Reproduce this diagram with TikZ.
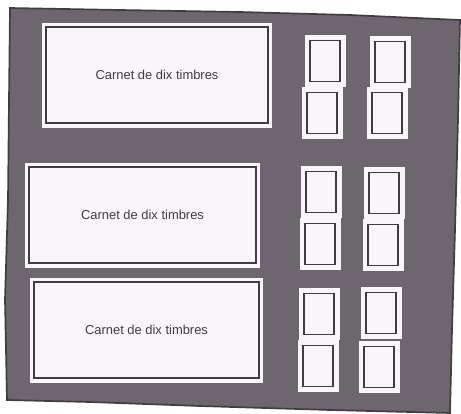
\documentclass[tikz,border=0pt]{standalone}
\usepackage{fontspec}
\setmainfont{Liberation Sans}
\usepackage{xcolor}
\usepackage{tikz}

\definecolor{fond}{RGB}{110,102,110}
\definecolor{trait}{RGB}{66,60,66}
\definecolor{papier}{RGB}{248,246,248}

\tikzset{
	carnet/.style={fill=papier, draw=papier, inner sep=0pt, minimum height=74pt,
		font=\fontsize{9.2}{11}\selectfont, text=trait,
		path picture={\draw[trait, line width=1pt]
			([shift={(2.6pt,3pt)}]path picture bounding box.south west) rectangle
			([shift={(-2.6pt,-3pt)}]path picture bounding box.north east);}},
	timbre/.style={fill=papier, draw=papier, inner sep=0pt,
		minimum width=28.4pt, minimum height=36.4pt,
		path picture={\draw[trait, line width=1pt]
			([shift={(3.4pt,3.6pt)}]path picture bounding box.south west) rectangle
			([shift={(-3.4pt,-3.6pt)}]path picture bounding box.north east);}}
}

\begin{document}
\begin{tikzpicture}[x=0.025cm, y=-0.025cm]
	\useasboundingbox (0,0) rectangle (461,414);
	% la planche
	\filldraw[fill=fond, draw=trait, line width=1.2pt] (10,8) -- (120,10) -- (240,12) -- (350,15) -- (460,20)
		-- (458,120) -- (455,230) -- (452,330) -- (450,413)
		-- (330,410) -- (200,406) -- (90,402) -- (7,400)
		-- (5,300) -- (8,200) -- (9,100) -- cycle;
	% les carnets
	\node[carnet, minimum width=163pt] (carnet1) at (157,75) {Carnet de dix timbres};
	\node[carnet, minimum width=166.5pt] (carnet2) at (142.5,215) {Carnet de dix timbres};
	\node[carnet, minimum width=165pt] (carnet3) at (146.5,330) {Carnet de dix timbres};
	% les timbres
	\node[timbre] (t1a) at (325,61) {};
	\node[timbre] (t1b) at (322,113) {};
	\node[timbre] (t1c) at (390,62) {};
	\node[timbre] (t1d) at (387,113) {};
	\node[timbre] (t2a) at (321,192) {};
	\node[timbre] (t2b) at (320,244) {};
	\node[timbre] (t2c) at (384,193) {};
	\node[timbre] (t2d) at (383,245) {};
	\node[timbre] (t3a) at (319,314) {};
	\node[timbre] (t3b) at (318,366) {};
	\node[timbre] (t3c) at (381,313) {};
	\node[timbre] (t3d) at (379,367) {};
\end{tikzpicture}
\end{document}
